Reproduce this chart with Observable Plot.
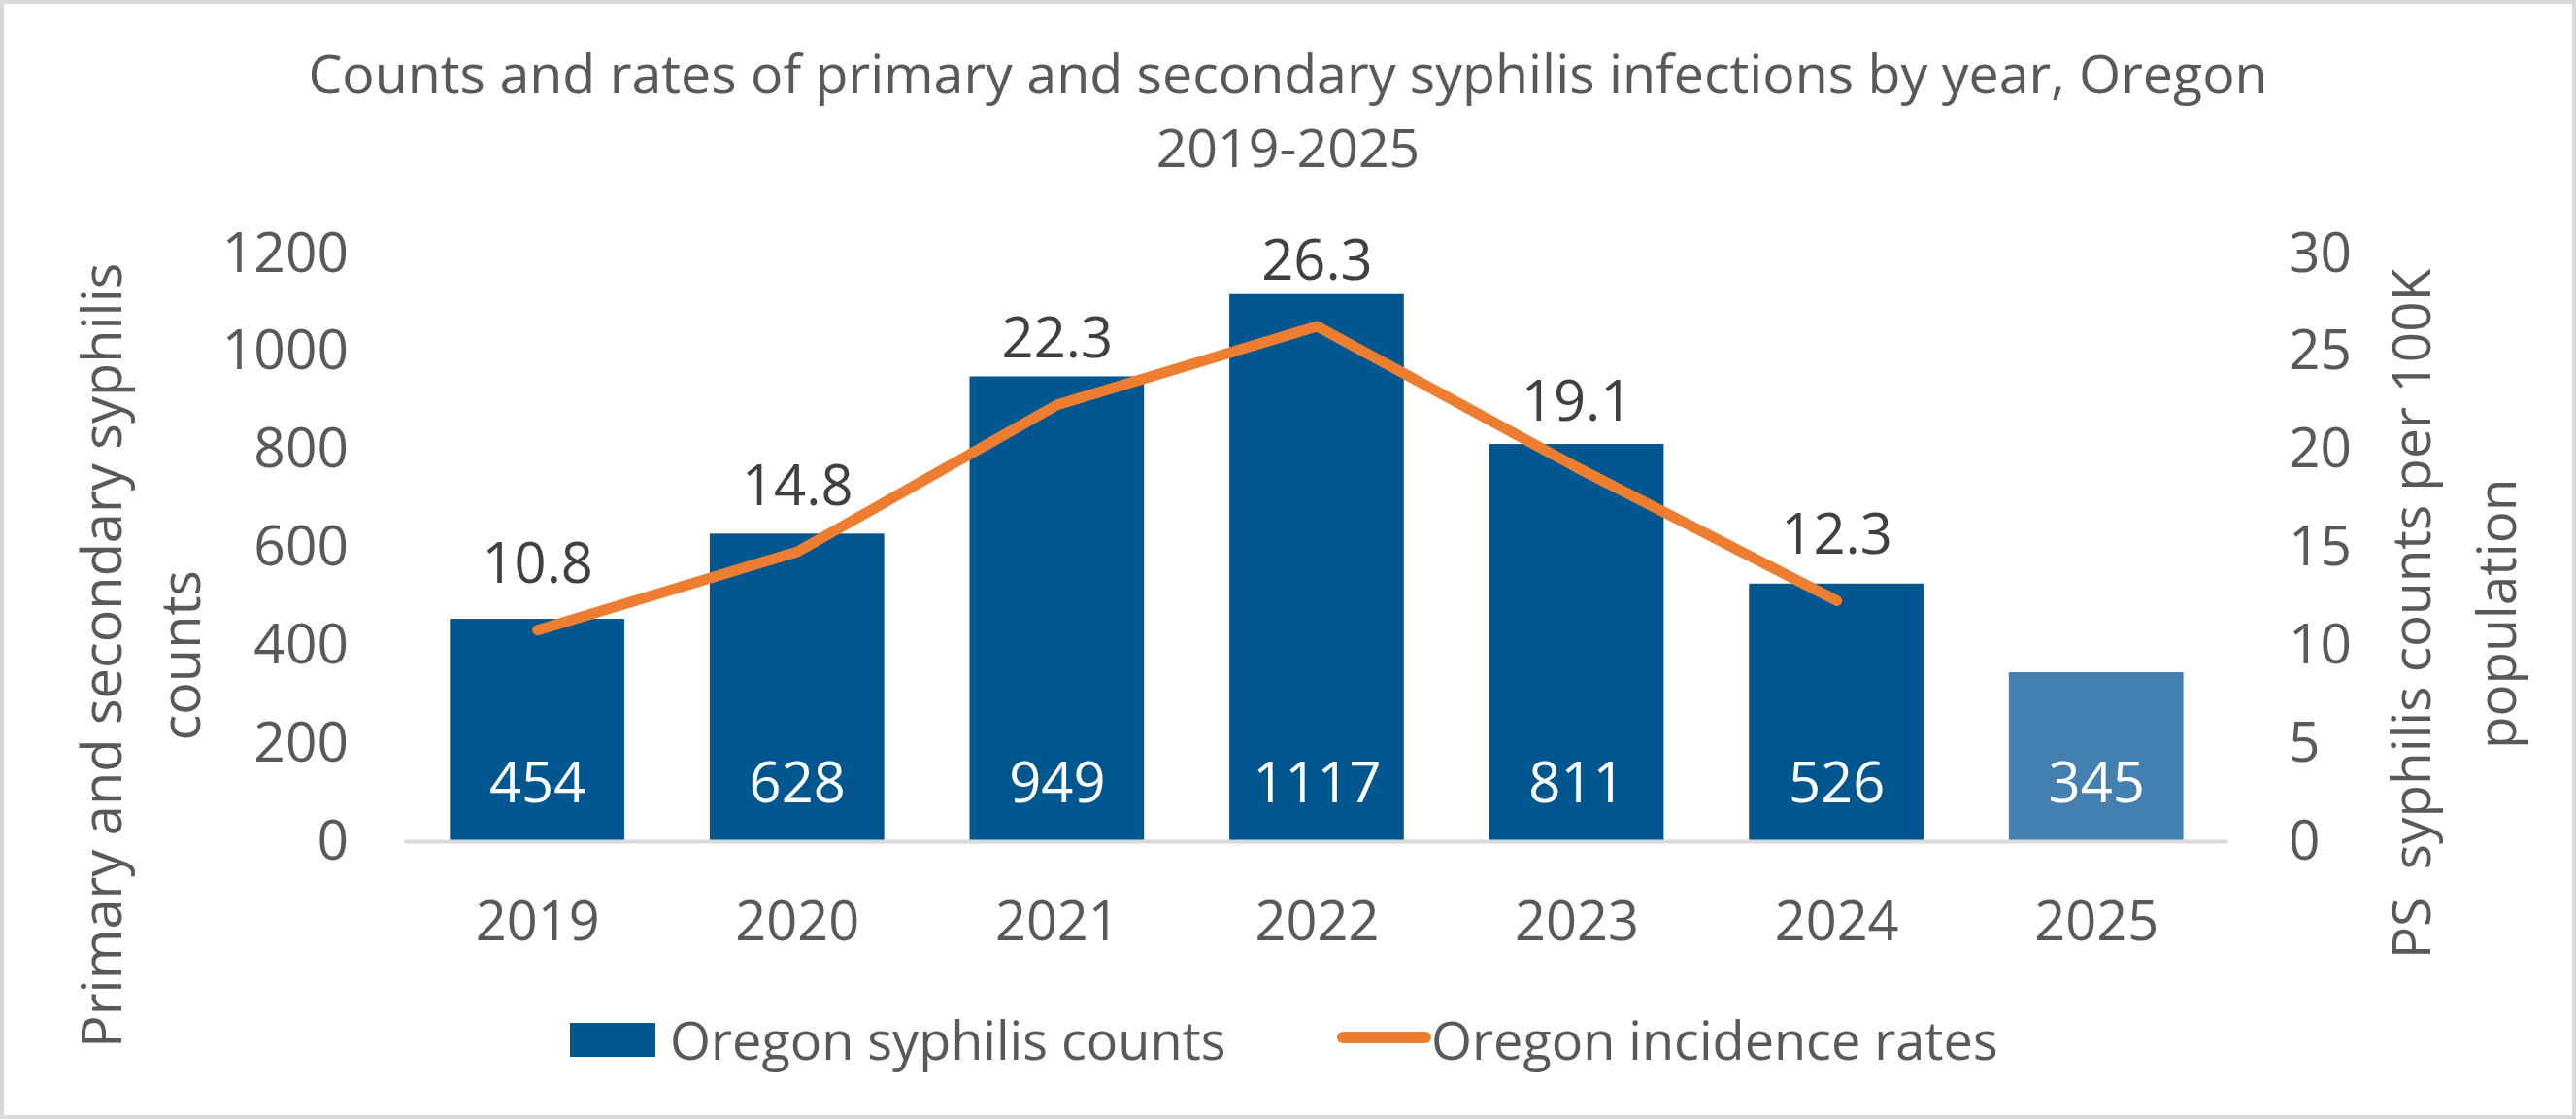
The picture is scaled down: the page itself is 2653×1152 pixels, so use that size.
<!DOCTYPE html>
<html>
<head>
<meta charset="utf-8">
<script src="https://cdn.jsdelivr.net/npm/d3@7"></script>
<script src="https://cdn.jsdelivr.net/npm/@observablehq/plot@0.6"></script>
<style>
  html, body { margin: 0; padding: 0; background: #fff; }
  #wrap { position: relative; width: 2653px; height: 1152px; box-sizing: border-box;
          border: 4px solid #d9d9d9; font-family: "Open Sans", sans-serif; color: #595959; overflow: hidden; background:#fff; }
  #title { position: absolute; left: -4px; top: 33px; width: 2653px; text-align: center;
           font-size: 55.5px; line-height: 76px; }
  #chart { position: absolute; left: -4px; top: 196px; }
  .leg { position: absolute; font-size: 54px; line-height: 60px; white-space: nowrap; }
  .sw-bar { position: absolute; background: #00568f; }
  .sw-line { position: absolute; background: #ed7d31; border-radius: 6px; }
</style>
</head>
<body>
<div id="wrap">
  <div id="title"></div>
  <div id="chart"></div>
</div>
<script>
// ---- data ----
const years = ["2019", "2020", "2021", "2022", "2023", "2024", "2025"];
const counts = [454, 628, 949, 1117, 811, 526, 345];
const rateYears = ["2019", "2020", "2021", "2022", "2023", "2024"];
const rates = [10.8, 14.8, 22.3, 26.3, 19.1, 12.3];
const partialYears = ["2025"];
const leftTicks = [0, 200, 400, 600, 800, 1000, 1200];
const rightTicks = [0, 5, 10, 15, 20, 25, 30];
const titleLines = ["Counts and rates of primary and secondary syphilis infections by year, Oregon", "2019-2025"];
const leftTitle = ["Primary and secondary syphilis", "counts"];
const rightTitle = ["PS  syphilis counts per 100K", "population"];
const seriesNames = ["Oregon syphilis counts", "Oregon incidence rates"];

// ---- styles ----
const barDark = "#00568f";
const barLight = "#4380b0";
const orange = "#ed7d31";
const textGray = "#595959";
const labelGray = "#404040";
const factor = leftTicks[leftTicks.length - 1] / rightTicks[rightTicks.length - 1];

const barData = years.map((y, i) => ({year: y, count: counts[i], status: partialYears.includes(y) ? "partial" : "final"}));
const rateData = rateYears.map((y, i) => ({year: y, rate: rates[i]}));

document.getElementById("title").innerHTML = titleLines.join("<br>");

const chart = Plot.plot({
  width: 2653,
  height: 800,
  marginLeft: 417,
  marginRight: 355,
  marginTop: 61,
  marginBottom: 133,
  style: {fontFamily: "'Open Sans', sans-serif", fontSize: "56px", color: textGray, background: "transparent", overflow: "visible"},
  x: {domain: years, type: "band", paddingInner: 0.33, paddingOuter: 0.165, align: 0.5},
  y: {domain: [0, 1200]},
  color: {domain: ["final", "partial"], range: [barDark, barLight]},
  marks: [
    Plot.barY(barData, {x: "year", y: "count", fill: "status"}),
    Plot.ruleY([0], {stroke: "#d9d9d9", strokeWidth: 4}),
    Plot.line(rateData, {x: "year", y: d => d.rate * factor, stroke: orange, strokeWidth: 11,
                         strokeLinecap: "round", strokeLinejoin: "round"}),
    Plot.text(rateData, {x: "year", y: d => d.rate * factor, text: d => d.rate.toFixed(1),
                         dy: -67, fill: labelGray, fontSize: 58}),
    Plot.text(barData, {x: "year", y: () => 0, text: d => String(d.count), dy: -59, fill: "white", fontSize: 58}),
    Plot.axisX({tickSize: 0, tickPadding: 62, label: null, fontSize: 56}),
    Plot.axisY({ticks: leftTicks, tickFormat: d => String(d), tickSize: 0, tickPadding: 58, label: null, fontSize: 57}),
    Plot.axisY({anchor: "right", ticks: leftTicks, tickFormat: d => String(d / factor), tickSize: 0,
                tickPadding: 62, label: null, fontSize: 57}),
    Plot.text([leftTitle.join("\n")], {frameAnchor: "left", text: d => d, rotate: -90, dx: -278, dy: 111,
                textAnchor: "middle", lineAnchor: "middle",
                fontSize: 56, lineHeight: 1.45, fill: textGray}),
    Plot.text([rightTitle.join("\n")], {frameAnchor: "right", text: d => d, rotate: -90, dx: 224, dy: 68,
                textAnchor: "middle", lineAnchor: "middle",
                fontSize: 55, lineHeight: 1.6, fill: textGray})
  ]
});
document.getElementById("chart").appendChild(chart);

// ---- legend ----
const wrap = document.getElementById("wrap");
function add(cls, css, text) {
  const el = document.createElement("div");
  el.className = cls;
  Object.assign(el.style, css);
  if (text) el.textContent = text;
  wrap.appendChild(el);
}
add("sw-bar", {left: "583px", top: "1049px", width: "88px", height: "35px"});
add("leg", {left: "686px", top: "1036px"}, seriesNames[0]);
add("sw-line", {left: "1373px", top: "1058px", width: "97px", height: "12px"});
add("leg", {left: "1470px", top: "1036px"}, seriesNames[1]);
</script>
</body>
</html>
